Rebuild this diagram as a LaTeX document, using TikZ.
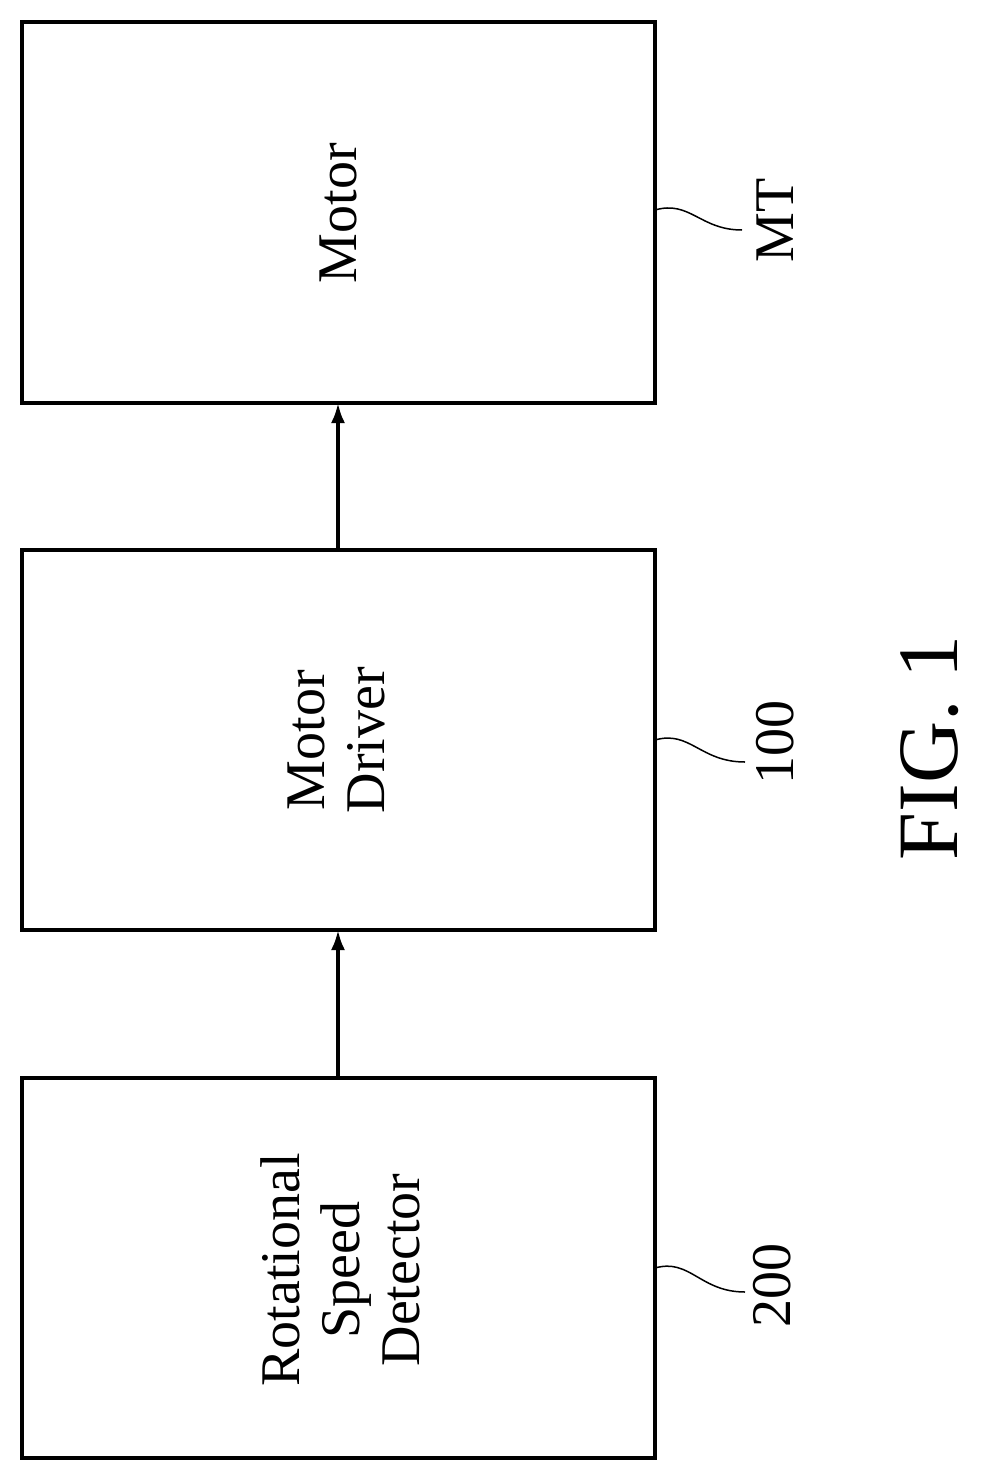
\documentclass[tikz,border=0pt]{standalone}
\usepackage{fontspec}
\setmainfont{Liberation Serif}
\usetikzlibrary{arrows.meta}
\begin{document}
\begin{tikzpicture}[x=1pt,y=-1pt,
  box/.style={draw,line width=3.5pt},
  lbl/.style={rotate=90,font=\fontsize{56}{60}\selectfont,align=center},
  arr/.style={line width=3.5pt,-{Latex[length=20pt,width=14pt]}},
  lead/.style={line width=1.5pt}]
\useasboundingbox (0,0) rectangle (989,1481);
\draw[box] (22,22) rectangle (655,403);
\draw[box] (22,550) rectangle (655,930);
\draw[box] (22,1078) rectangle (655,1458);
\node[lbl] (m) at (338,213) {Motor};
\node[lbl] (d) at (336,740) {Motor\\Driver};
\node[lbl] (r) at (340,1270) {Rotational\\Speed\\Detector};
\coordinate (mb) at (338,403); \coordinate (mt) at (338,550);
\coordinate (db) at (338,930); \coordinate (dt) at (338,1078);
\draw[arr] (mt) -- (mb);
\draw[arr] (dt) -- (db);
\node[lbl] (lmt) at (775,220) {MT};
\node[lbl] (l100) at (775,742) {100};
\node[lbl] (l200) at (772,1285) {200};
\draw[lead] (655,210) .. controls (690,200) and (700,230) .. (742,230);
\draw[lead] (655,740) .. controls (690,730) and (700,762) .. (745,762);
\draw[lead] (655,1268) .. controls (690,1258) and (700,1292) .. (745,1292);
\node[rotate=90,font=\fontsize{86}{90}\selectfont] (fig) at (930,748) {FIG. 1};
\end{tikzpicture}
\end{document}
